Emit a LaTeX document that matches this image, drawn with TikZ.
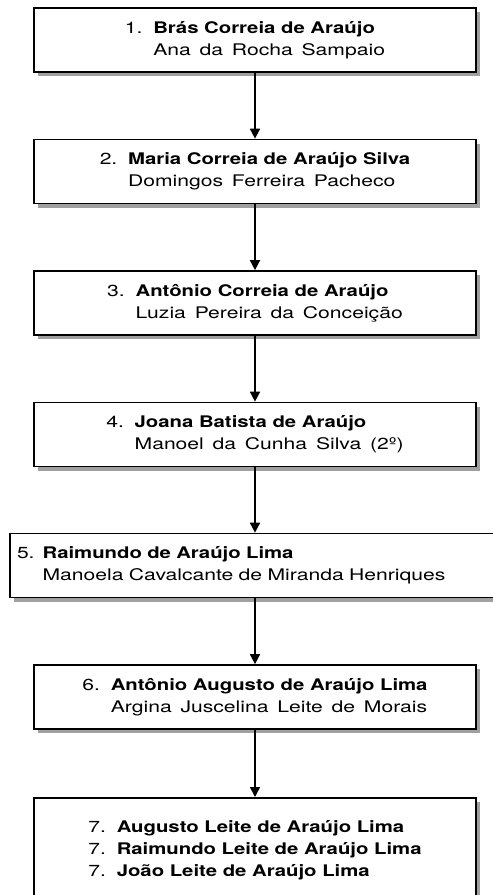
\documentclass[tikz,border=0pt]{standalone}
\usepackage{fontspec}
\usepackage{tikz}
\usetikzlibrary{arrows.meta,shadows}
\setmainfont{TeX Gyre Heros}[FakeStretch=1.32, WordSpace=1.5]
\newfontfamily\namefont{TeX Gyre Heros}[FakeStretch=1.27]
\definecolor{shadowgray}{RGB}{160,160,160}
\newcommand{\nm}[1]{{\namefont\bfseries #1}}

\tikzset{
    personbox/.style={draw, line width=1.7pt, fill=white, minimum width=442pt, minimum height=64pt,
        align=left, font=\fontsize{16}{22}\selectfont,
        drop shadow={shadow xshift=4pt, shadow yshift=-4pt, fill=shadowgray, opacity=1}},
    descent/.style={line width=1.6pt, -{Triangle[width=10pt,length=10pt]}}
}

\begin{document}
\begin{tikzpicture}[x=1pt, y=-1pt]
    \useasboundingbox (0,0) rectangle (493,895);

    % Generations
    \node[personbox] (g1) at (255, 40) {1. \nm{Brás Correia de Araújo}\\\phantom{1. }Ana da Rocha Sampaio};
    \node[personbox] (g2) at (255, 171.5) {2. \nm{Maria Correia de Araújo Silva}\\\phantom{2. }Domingos Ferreira Pacheco};
    \node[personbox] (g3) at (255, 303) {3. \nm{Antônio Correia de Araújo}\\\phantom{3. }Luzia Pereira da Conceição};
    \node[personbox] (g4) at (255, 434.5) {4. \nm{Joana Batista de Araújo}\\\phantom{4. }Manoel da Cunha Silva (2º)};
    \node[personbox, minimum width=490pt, text width=476pt, inner xsep=7pt] (g5) at (255, 565.5)
        {5. \nm{Raimundo de Araújo Lima}\\\phantom{5. }Manoela Cavalcante de Miranda Henriques};
    \node[personbox] (g6) at (255, 697) {6. \nm{Antônio Augusto de Araújo Lima}\\\phantom{6. }Argina Juscelina Leite de Morais};
    \node[personbox, minimum height=105pt, anchor=north] (g7) at (255, 797)
        {7. \nm{Augusto Leite de Araújo Lima}\\7. \nm{Raimundo Leite de Araújo Lima}\\7. \nm{João Leite de Araújo Lima}};

    % Descent arrows
    \foreach \a/\b in {g1/g2, g2/g3, g3/g4, g4/g5, g5/g6, g6/g7} {
        \draw[descent] (\a) -- (\b);
    }
\end{tikzpicture}
\end{document}
